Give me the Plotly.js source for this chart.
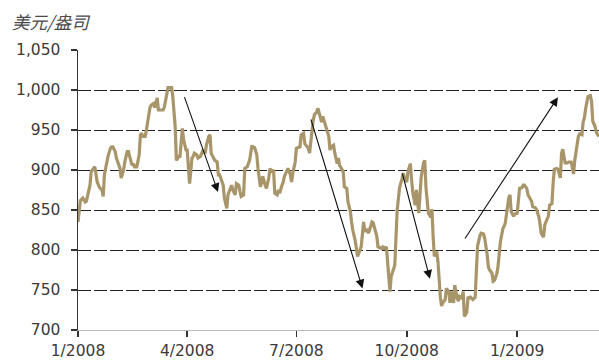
<!DOCTYPE html>
<html>
<head>
<meta charset="utf-8">
<script src="https://cdn.plot.ly/plotly-3.0.1.min.js"></script>
<style>html,body{margin:0;padding:0;background:#fff;}#chart{width:599px;height:363px;}</style>
</head>
<body>
<div id="chart"></div>
<script>
// Gold price (USD/oz), day offsets counted from 2008-01-01
const startDate = '2008-01-01';
const dayOffset = [0,2,4,6,7,9,10,11,13,14,16,17,18,20,21,22,24,25,27,28,29,31,32,34,35,36,38,39,41,42,43,45,46,47,49,51,52,53,54,56,57,59,60,61,63,64,66,67,68,71,72,74,75,78,79,81,82,84,85,87,88,90,91,93,95,96,97,99,100,102,104,106,107,109,110,111,113,114,116,117,118,120,121,122,124,125,127,128,129,131,132,134,135,136,138,139,141,143,145,146,147,149,150,152,153,154,156,157,159,160,161,163,164,166,167,168,170,171,172,174,175,177,178,179,181,182,185,186,188,189,191,192,193,195,196,197,199,200,202,203,204,206,207,209,210,211,213,214,216,217,218,220,221,222,224,225,227,228,229,231,232,233,234,236,238,239,241,242,243,245,246,247,249,250,252,253,254,256,257,259,260,261,263,264,266,267,268,270,271,272,274,275,277,278,279,281,282,284,285,286,288,289,290,291,292,294,295,296,297,299,300,302,303,304,306,307,309,310,311,313,314,316,317,318,320,321,322,324,325,327,328,329,331,332,333,335,336,338,339,341,342,343,345,346,347,349,350,352,353,354,356,357,359,360,361,363,364,366,367,368,370,371,372,374,375,377,378,379,381,382,384,385,386,388,389,391,392,393,395,396,397,399,400,402,403,404,405,406,408,409,411,412,413,414,416,417,418,420,421,422,423,424,425,427,428,429,431,432,434];
const goldPrice = [835,862,865,860,861,878,881,898,902,904,885,881,878,875,867,894,912,917,927,929,929,923,915,904,902,890,900,910,923,923,917,906,908,904,904,919,944,946,942,942,950,969,978,981,983,978,990,975,975,975,979,996,1003,1003,992,954,912,917,917,952,938,925,925,883,915,917,921,919,915,917,924,921,931,942,944,921,915,912,910,894,894,885,881,865,852,869,877,881,875,869,883,881,873,867,869,902,904,912,931,927,929,919,902,879,885,892,881,877,890,902,898,900,871,869,875,871,881,885,892,898,902,894,885,896,910,927,929,944,946,933,929,927,921,954,962,969,973,977,965,960,967,958,952,942,925,929,931,921,908,915,906,900,898,879,877,860,848,835,825,812,800,792,796,804,835,824,825,821,825,835,834,828,817,804,802,802,804,802,804,771,748,767,779,781,850,865,878,889,896,891,885,898,908,888,872,856,875,846,869,891,909,912,878,854,846,841,851,816,792,798,785,741,730,734,738,752,748,734,748,734,756,740,736,742,740,748,717,722,740,741,740,738,741,788,805,818,821,820,814,794,779,775,771,761,762,770,779,810,820,826,833,846,865,869,848,842,845,846,869,877,878,881,881,877,869,864,861,854,853,851,842,833,821,816,831,839,842,856,858,884,901,902,901,890,921,926,916,909,909,910,910,901,895,912,934,942,945,944,960,965,976,985,992,993,986,961,954,947,942];
const tickDates = ['2008-01-01','2008-04-01','2008-07-01','2008-10-01','2009-01-01'];
const tickLabels = ['1/2008','4/2008','7/2008','10/2008','1/2009'];
const yTickValues = [700,750,800,850,900,950,1000,1050];
const yTickLabels = ['700','750','800','850','900','950','1,000','1,050'];
const unitLabel = '美元/盎司';

const t0 = Date.parse(startDate + 'T00:00:00Z');
function dayToDate(d){
  return new Date(t0 + d*86400000).toISOString().replace('T',' ').slice(0,19);
}
const xDates = dayOffset.map(dayToDate);

const trace = {
  x: xDates, y: goldPrice, type: 'scatter', mode: 'lines',
  line: {color: '#a8966a', width: 3.2}, hoverinfo: 'skip'
};

function arrow(d0, v0, d1, v1){
  return {x: dayToDate(d1), y: v1, ax: dayToDate(d0), ay: v0, xref:'x', yref:'y', axref:'x', ayref:'y',
    text:'', showarrow:true, arrowhead:2, arrowsize:1.6, arrowwidth:1.1, arrowcolor:'#111', standoff:0, startstandoff:0};
}

const tickFont = {family: '"DejaVu Sans", sans-serif', size: 15.5, color: '#3a3a3a'};

const layout = {
  width: 599, height: 363,
  margin: {l: 78, r: 0, t: 50, b: 33, pad: 0},
  paper_bgcolor: '#fff', plot_bgcolor: '#fff',
  showlegend: false,
  font: {family: '"DejaVu Sans", sans-serif', size: 15.5, color: '#3a3a3a'},
  xaxis: {
    type: 'date', range: [dayToDate(0), dayToDate(434.2)],
    tickmode: 'array', tickvals: tickDates, ticktext: tickLabels,
    showgrid: false, zeroline: false,
    showline: true, linecolor: '#bbbbbb', linewidth: 1,
    ticks: 'outside', ticklen: 6, tickwidth: 1.5, tickcolor: '#333',
    tickfont: tickFont
  },
  yaxis: {
    range: [700, 1050], tickmode: 'array', tickvals: yTickValues, ticktext: yTickLabels,
    showgrid: true, gridcolor: '#222', gridwidth: 1, griddash: '13px,3px',
    zeroline: false, showline: true, linecolor: '#333', linewidth: 1.5,
    ticks: 'outside', ticklen: 6, tickwidth: 1.5, tickcolor: '#333',
    ticklabelstandoff: 7,
    tickfont: tickFont
  },
  annotations: [
    arrow(88.3, 993, 116.7, 872.5),
    arrow(193.75, 965, 237.1, 752),
    arrow(270, 897.5, 293.3, 764),
    arrow(321.7, 812.5, 400, 991),
    {xref:'paper', yref:'paper', x: -0.13, y: 1.10, xanchor:'left', yanchor:'middle',
     text: '<i>' + unitLabel + '</i>', showarrow:false,
     font:{family:'"Noto Sans CJK SC", sans-serif', size:17.5, color:'#4a4a4a'}}
  ]
};

Plotly.newPlot('chart', [trace], layout, {staticPlot: true, displayModeBar: false});
</script>
</body>
</html>
